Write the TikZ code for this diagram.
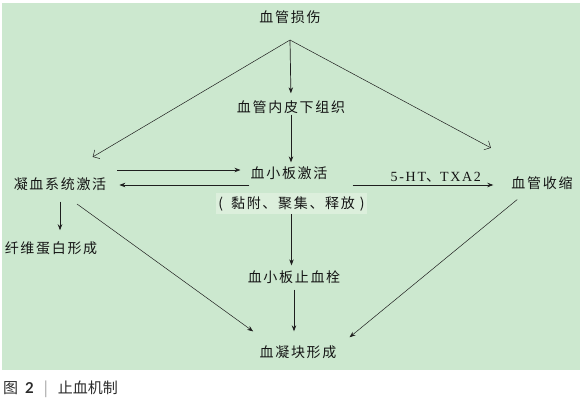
\documentclass[tikz,border=0pt]{standalone}
\usepackage{fontspec}
\usetikzlibrary{positioning, arrows.meta, calc}
\setmainfont{Liberation Serif}
\newfontfamily\cjk[LetterSpace=12]{Noto Sans CJK SC}
\newfontfamily\latserif[LetterSpace=12]{Liberation Serif}
\newfontfamily\capcjk{Noto Sans CJK SC}
\newfontfamily\capnum{Lato}
\definecolor{bgPanel}{HTML}{CCE8CF}
\definecolor{bgBox}{HTML}{DCEFDC}
\definecolor{lineColor}{HTML}{1E1E1E}
\definecolor{textMain}{HTML}{151515}
\definecolor{textCap}{HTML}{2B2B2B}
\definecolor{barGray}{HTML}{9A9A9A}
\tikzset{
  txt/.style={font=\cjk\fontsize{14}{16}\selectfont, text=textMain, inner sep=1pt},
  medtxt/.style={font=\latserif\fontsize{14}{16}\selectfont, text=textMain, inner sep=1pt},
  notebox/.style={txt, fill=bgBox, minimum width=151pt, minimum height=21pt},
  captxt/.style={font=\capcjk\fontsize{15}{17}\selectfont, text=textCap, inner sep=0pt},
  stdarrow/.style={-{Stealth[length=6pt, width=4.5pt]}, line width=0.7pt, color=lineColor},
  openarrow/.style={-{Straight Barb[length=5pt, width=10pt]}, line width=0.5pt, color=lineColor},
}

\begin{document}
\begin{tikzpicture}[x=1pt, y=-1pt]

  \useasboundingbox (0,0) rectangle (583,405);
  \fill[bgPanel] (2,3) rectangle (580,370);

  % === Top: injury and subendothelium ===
  \node[txt] (inj) at (290,17) {血管损伤};
  \coordinate (split) at (290,40);
  \node[txt] (sub) at (291,107) {血管内皮下组织};

  % === Middle row ===
  \node[txt] (plt) at (289,173) {血小板激活};
  \node[notebox] (act) at (291.5,203.5) {(\hspace{8pt}黏附、聚集、释放\hspace{5pt})};
  \node[txt] (coag) at (60,184) {凝血系统激活};
  \node[txt] (vaso) at (542,183) {血管收缩};
  \node[txt] (fib) at (51,248) {纤维蛋白形成};
  \coordinate (rowUp) at (0,170);
  \coordinate (rowDn) at (0,185);

  % === Bottom ===
  \node[txt] (plug) at (294,277) {血小板止血栓};
  \node[txt] (clot) at (298,352) {血凝块形成};

  % Arrows: injury -> branches
  \draw[stdarrow, shorten >=6pt] (split) -- (sub.north);
  \draw[openarrow, shorten >=38pt] (split) -- (coag.north);
  \draw[openarrow, shorten >=58pt] (split) -- (vaso.north);

  % Arrows: middle row
  \draw[stdarrow, shorten >=3pt] (sub.south) -- (sub.south |- plt.north);
  \draw[stdarrow, shorten <=10pt, shorten >=9pt] (coag.east |- rowUp) -- (plt.west |- rowUp);
  \draw[stdarrow, shorten >=12pt] (plt.west |- rowDn) -- (coag.east |- rowDn);
  \draw[stdarrow, shorten <=24pt, shorten >=17pt] (plt.east |- rowDn) --
    node[medtxt, pos=0.59, above=1pt] (med) {5-HT{\cjk 、}TXA2} (vaso.west |- rowDn);
  \draw[stdarrow, shorten <=10pt, shorten >=10pt] (coag.south) -- (coag.south |- fib.north);

  % Arrows: towards the clot
  \draw[stdarrow, shorten >=4pt] (act.south) -- (act.south |- plug.north);
  \draw[stdarrow, shorten <=5pt, shorten >=13pt] (plug.south) -- (plug.south |- clot.north);
  \draw[stdarrow, line width=0.5pt, shorten <=21pt, shorten >=22pt] (coag.south) -- ([xshift=-27pt]clot.north);
  \draw[stdarrow, line width=0.5pt, shorten <=14pt, shorten >=11pt] ([xshift=-14pt]vaso.south) -- ([xshift=43pt]clot.north);

  % === Caption ===
  \node[captxt, anchor=west] (cap) at (3,389) {图\hspace{7pt}{\capnum\bfseries 2}\hspace{10pt}{\color{barGray}|}\hspace{10pt}止血机制};

\end{tikzpicture}
\end{document}
